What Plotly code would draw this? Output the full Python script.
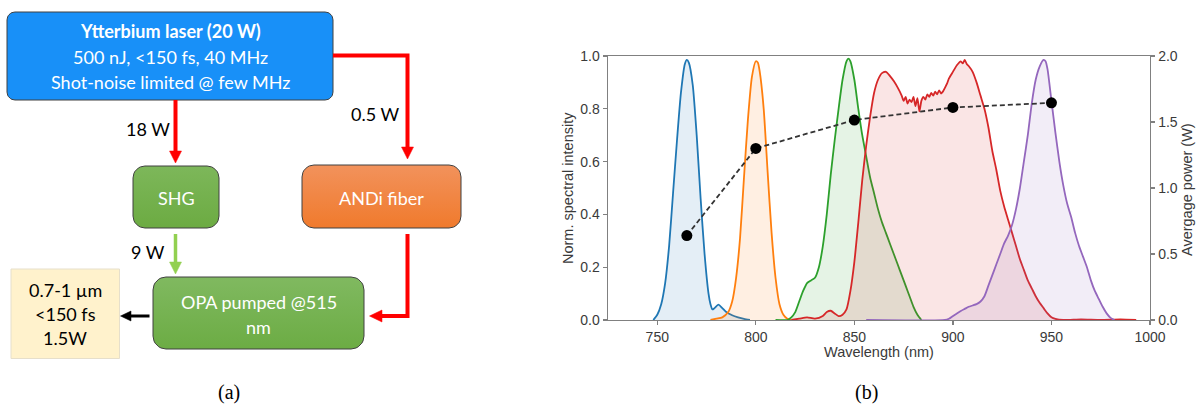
import math
import plotly.graph_objects as go

W, H = 1198, 405

# ---------------- data ----------------
blue_wl = [748, 750, 752, 754, 756, 758, 760, 762, 764, 765, 766, 768, 770, 772, 774, 776, 777, 778, 779, 781, 783, 785, 788, 791, 794, 797]
blue_val = [0.0, 0.02, 0.06, 0.14, 0.28, 0.48, 0.68, 0.86, 0.97, 0.985, 0.975, 0.89, 0.70, 0.46, 0.25, 0.10, 0.06, 0.04, 0.045, 0.058, 0.045, 0.03, 0.018, 0.01, 0.004, 0.0]

orange_wl = [777, 780, 783, 786, 788, 790, 792, 794, 796, 798, 800, 801, 802, 804, 806, 808, 810, 812, 814, 816, 818]
orange_val = [0.0, 0.005, 0.01, 0.03, 0.07, 0.16, 0.31, 0.54, 0.76, 0.92, 0.98, 0.975, 0.94, 0.80, 0.56, 0.33, 0.16, 0.06, 0.02, 0.005, 0.0]

green_wl = [810, 816, 818, 820, 822, 824, 826, 828, 830, 832, 834, 836, 838, 840, 842, 844, 846, 847, 848, 850, 852, 854, 856, 858, 860, 862, 864, 866, 868, 870, 872, 874, 876, 878, 880, 882, 884]
green_val = [0.0, 0.0, 0.01, 0.03, 0.07, 0.11, 0.14, 0.15, 0.16, 0.20, 0.28, 0.40, 0.55, 0.68, 0.80, 0.91, 0.98, 0.99, 0.98, 0.91, 0.80, 0.70, 0.62, 0.54, 0.48, 0.42, 0.37, 0.33, 0.29, 0.25, 0.21, 0.17, 0.13, 0.09, 0.05, 0.02, 0.0]

red_wl = [818, 822, 826, 830, 834, 836, 838, 840, 842, 844, 846, 848, 850, 852, 854, 856, 858, 860, 862, 864, 866, 868, 870, 872, 874,
          875, 876, 877, 878, 879, 880, 881, 882, 883, 884, 885, 886, 887, 888, 889, 890, 891, 892, 893, 894, 895, 896, 897, 898,
          900, 902, 904, 905, 906, 907, 908, 910, 912, 914, 916, 918, 920, 922, 924, 926, 928, 930, 932, 934, 936, 938, 940, 942,
          944, 946, 948, 950, 952, 956, 965, 975, 985, 993]
red_val = [0.0, 0.005, 0.01, 0.005, 0.015, 0.03, 0.035, 0.025, 0.015, 0.02, 0.04, 0.11, 0.22, 0.37, 0.53, 0.66, 0.77, 0.86, 0.91, 0.935, 0.94, 0.925, 0.905, 0.88, 0.85,
           0.83, 0.845, 0.82, 0.835, 0.825, 0.845, 0.81, 0.84, 0.79, 0.83, 0.845, 0.835, 0.855, 0.845, 0.86, 0.85, 0.865, 0.855, 0.87, 0.858, 0.866, 0.88, 0.895, 0.915,
           0.94, 0.965, 0.98, 0.972, 0.985, 0.97, 0.962, 0.94, 0.90, 0.85, 0.80, 0.73, 0.64, 0.57, 0.49, 0.43, 0.38, 0.33, 0.28, 0.23, 0.19, 0.15, 0.12, 0.09,
           0.065, 0.045, 0.025, 0.01, 0.004, 0.0, 0.002, 0.0, 0.002, 0.0]

purple_wl = [856, 896, 898, 900, 902, 904, 906, 908, 910, 912, 914, 916, 918, 920, 922, 924, 926, 928, 930, 932, 934, 936, 938, 940, 942, 944, 946, 947,
             948, 950, 952, 954, 956, 958, 960, 962, 964, 966, 968, 970, 972, 974, 976, 978, 980, 982]
purple_val = [0.0, 0.0, 0.005, 0.015, 0.025, 0.034, 0.042, 0.05, 0.055, 0.06, 0.07, 0.09, 0.13, 0.17, 0.21, 0.25, 0.29, 0.32, 0.36, 0.42, 0.50, 0.60, 0.70, 0.82, 0.91, 0.96, 0.985, 0.98,
              0.95, 0.83, 0.71, 0.60, 0.51, 0.44, 0.39, 0.33, 0.28, 0.24, 0.20, 0.15, 0.11, 0.08, 0.05, 0.025, 0.008, 0.0]

power_wl = [765, 800, 850, 900, 950]
power_w = [0.64, 1.30, 1.515, 1.61, 1.645]

x_ticks = [750, 800, 850, 900, 950, 1000]
y_ticks = [0.0, 0.2, 0.4, 0.6, 0.8, 1.0]
y2_ticks = [0.0, 0.5, 1.0, 1.5, 2.0]

spectra = [
    (blue_wl, blue_val, (31, 119, 180)),
    (orange_wl, orange_val, (255, 127, 14)),
    (green_wl, green_val, (44, 160, 44)),
    (red_wl, red_val, (214, 39, 40)),
    (purple_wl, purple_val, (148, 103, 189)),
]

fig = go.Figure()

for wl, val, (r, g, b) in spectra:
    fig.add_trace(go.Scatter(
        x=wl, y=val, mode="lines", xaxis="x", yaxis="y",
        line=dict(color=f"rgb({r},{g},{b})", width=1.8, shape="spline", smoothing=0.6),
        fill="tozeroy", fillcolor=f"rgba({r},{g},{b},0.12)",
        hoverinfo="skip", showlegend=False))

fig.add_trace(go.Scatter(
    x=power_wl, y=power_w, xaxis="x", yaxis="y2", mode="lines+markers",
    line=dict(color="#333333", width=1.8, dash="5px,3px"),
    marker=dict(color="black", size=11),
    hoverinfo="skip", showlegend=False))

# ---------------- diagram (pixel coordinates on hidden axes x3/y3) ----------------
def rrect_pts(x0, y0, x1, y1, r, n=8):
    xs, ys = [], []
    corners = [(x1 - r, y0 + r, -90, 0), (x1 - r, y1 - r, 0, 90), (x0 + r, y1 - r, 90, 180), (x0 + r, y0 + r, 180, 270)]
    for cx, cy, a0, a1 in corners:
        for i in range(n + 1):
            a = math.radians(a0 + (a1 - a0) * i / n)
            xs.append(cx + r * math.cos(a))
            ys.append(cy + r * math.sin(a))
    xs.append(xs[0]); ys.append(ys[0])
    return xs, ys

boxes = [
    # x0, y0, x1, y1, r, top colour, bottom colour
    (7, 12, 333, 100, 8, "#1890F8", "#1890F8"),
    (133, 166, 219, 228, 12, "#7DB75A", "#6CAB42"),
    (302, 165, 461, 228, 12, "#F2925C", "#F07A2C"),
    (153, 277, 364, 349, 13, "#80B960", "#6CAC44"),
]
for x0, y0, x1, y1, r, ctop, cbot in boxes:
    xs, ys = rrect_pts(x0, y0, x1, y1, r)
    fig.add_trace(go.Scatter(
        x=xs, y=ys, xaxis="x3", yaxis="y3", mode="lines", fill="toself",
        fillcolor=ctop,
        fillgradient=dict(type="vertical", start=y0, stop=y1,
                          colorscale=[[0, ctop], [1, cbot]]),
        line=dict(color="#404040", width=1),
        hoverinfo="skip", showlegend=False))

shapes = []
# output box
shapes.append(dict(type="rect", xref="x3", yref="y3", x0=11, y0=269, x1=119.5, y1=358.5,
                   fillcolor="#FFF2CC", line=dict(color="#E6DFCB", width=1), layer="above"))

def seg(pts, color, width):
    path = "M" + " L".join(f"{x},{y}" for x, y in pts)
    return dict(type="path", xref="x3", yref="y3", path=path,
                line=dict(color=color, width=width), layer="above")

def tri(pts, color):
    path = "M" + " L".join(f"{x},{y}" for x, y in pts) + " Z"
    return dict(type="path", xref="x3", yref="y3", path=path,
                fillcolor=color, line=dict(color=color, width=0.5), layer="above")

RED = "#FF0000"
GRN = "#92D050"
shapes += [
    seg([(175.5, 100), (175.5, 152)], RED, 4),
    tri([(169.5, 151), (181.5, 151), (175.5, 163)], RED),
    seg([(333, 55.5), (407.5, 55.5), (407.5, 148)], RED, 4),
    tri([(401.5, 147), (413.5, 147), (407.5, 159)], RED),
    seg([(175.5, 234), (175.5, 263)], GRN, 3.5),
    tri([(169.5, 262), (181.5, 262), (175.5, 274)], GRN),
    seg([(407.5, 234), (407.5, 316), (381, 316)], RED, 4),
    tri([(382, 310), (382, 322), (369.5, 316)], RED),
    seg([(149.5, 316), (130, 316)], "black", 3),
    tri([(131, 311), (131, 321), (120.5, 316)], "black"),
]

ann = []
def txt(x, y, s, size=18, color="black", family="Lato", angle=0, bold=False):
    if bold:
        s = f"<b>{s}</b>"
    ann.append(dict(x=x, y=y, xref="x3", yref="y3", text=s, showarrow=False,
                    textangle=angle, xanchor="center", yanchor="middle",
                    font=dict(family=family, size=size, color=color)))

txt(170, 31, "Ytterbium laser (20 W)", bold=True, color="white")
txt(170, 57, "500 nJ, <150 fs, 40 MHz", color="white")
txt(170, 81.5, "Shot-noise limited @ few MHz", color="white")
txt(148, 129, "18 W")
txt(375, 113.5, "0.5 W")
txt(176, 198, "SHG", color="white")
txt(381, 198, "ANDi fiber", color="white")
txt(148, 252, "9 W")
txt(258.5, 302, "OPA pumped @515", color="white")
txt(258.5, 327, "nm", color="white")
txt(65, 289.5, "0.7-1 µm")
txt(65, 313.5, "&lt;150 fs")
txt(65, 338, "1.5W")
txt(229, 392, "(a)", size=20, family="Liberation Serif")
txt(866, 392, "(b)", size=20, family="Liberation Serif")

# chart axis titles
CH = "Liberation Sans"
txt(568, 188, "Norm. spectral intensity", size=14.5, color="#3a3a3a", family=CH, angle=-90)
txt(879, 352, "Wavelength (nm)", size=14.5, color="#3a3a3a", family=CH)
txt(1187, 190, "Avergage power (W)", size=14.5, color="#3a3a3a", family=CH, angle=-90)

SP = "#808080"
tickfont = dict(family=CH, size=14, color="#3a3a3a")
fig.update_layout(
    width=W, height=H, autosize=False,
    margin=dict(l=0, r=0, t=0, b=0, pad=0, autoexpand=False),
    paper_bgcolor="white", plot_bgcolor="rgba(0,0,0,0)",
    showlegend=False,
    xaxis=dict(domain=[608 / W, 1150 / W], range=[725, 1000], anchor="y", automargin=False,
               tickvals=x_ticks, ticktext=[str(v) for v in x_ticks],
               ticks="outside", ticklen=4, tickcolor=SP, tickwidth=1.2,
               showline=True, linecolor=SP, linewidth=1.4, mirror=True,
               showgrid=False, zeroline=False, tickfont=tickfont),
    yaxis=dict(domain=[(H - 320) / H, (H - 56) / H], range=[0, 1.0], anchor="x", automargin=False,
               tickvals=y_ticks, ticktext=[f"{v:.1f}" for v in y_ticks],
               ticks="outside", ticklen=4, tickcolor=SP, tickwidth=1.2,
               showline=True, linecolor=SP, linewidth=1.4,
               showgrid=False, zeroline=False, tickfont=tickfont),
    yaxis2=dict(overlaying="y", side="right", anchor="x", range=[0, 2.0], automargin=False,
                tickvals=y2_ticks, ticktext=[f"{v:.1f}" for v in y2_ticks],
                ticks="outside", ticklen=4, tickcolor=SP, tickwidth=1.2,
                showline=True, linecolor=SP, linewidth=1.4,
                showgrid=False, zeroline=False, tickfont=tickfont),
    xaxis3=dict(domain=[0, 1], range=[0, W], visible=False, anchor="y3", fixedrange=True, automargin=False),
    yaxis3=dict(domain=[0, 1], range=[H, 0], visible=False, anchor="x3", fixedrange=True, automargin=False),
    shapes=shapes,
    annotations=ann,
)

fig.write_html(
    "out.html",
    config={"responsive": False, "displayModeBar": False, "staticPlot": True},
    post_script=(
        "document.body.style.margin='0';document.body.style.padding='0';"
        "document.documentElement.style.overflow='hidden';"
        "var gd=document.getElementById('{plot_id}');"
        "gd.style.position='fixed';gd.style.left='0px';gd.style.top='0px';"
    ),
)
